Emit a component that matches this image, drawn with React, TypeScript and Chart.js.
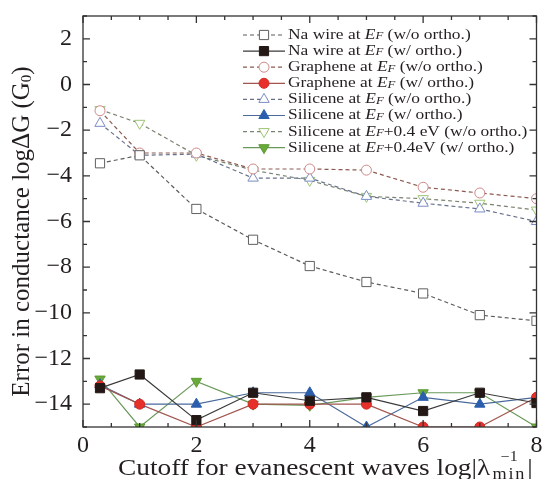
import React, { useEffect, useRef } from "react";
import { Chart, registerables } from "chart.js";
import { drawPoint } from "chart.js/helpers";

Chart.register(...registerables);

const X_VALUES = [0.3, 1, 2, 3, 4, 5, 6, 7, 8];
const NA_WO = [-3.45, -3.1, -5.45, -6.8, -7.95, -8.65, -9.15, -10.1, -10.35];
const NA_W = [-13.3, -12.7, -14.7, -13.5, -13.85, -13.7, -14.3, -13.5, -13.95];
const GR_WO = [-1.15, -3.0, -3.0, -3.7, -3.7, -3.75, -4.5, -4.75, -5.0];
const GR_W = [-13.2, -14.0, -15.0, -14.0, -14.0, -14.0, -15.0, -15.0, -13.7];
const SI_WO = [-1.7, -3.1, -3.05, -4.1, -4.1, -4.9, -5.2, -5.45, -6.0];
const SI_W = [-13.15, -14.0, -14.0, -13.5, -13.5, -15.0, -13.7, -14.0, -13.7];
const SIP_WO = [-1.1, -1.7, -3.1, -3.75, -4.2, -4.9, -5.0, -5.2, -5.5];
const SIP_W = [-12.9, -15.0, -13.0, -14.0, -14.05, -13.7, -13.5, -13.5, -15.0];

const X_TICKS = [0, 2, 4, 6, 8];
const Y_TICKS = [2, 0, -2, -4, -6, -8, -10, -12, -14];

const LABEL_PREFIX = [
  "Na wire at ",
  "Na wire at ",
  "Graphene at ",
  "Graphene at ",
  "Silicene at ",
  "Silicene at ",
  "Silicene at ",
  "Silicene at ",
];
const LABEL_SUFFIX = [
  " (w/o ortho.)",
  " (w/ ortho.)",
  " (w/o ortho.)",
  " (w/ ortho.)",
  " (w/o ortho.)",
  " (w/ ortho.)",
  "+0.4 eV (w/o ortho.)",
  "+0.4eV (w/ ortho.)",
];

const X_TITLE_MAIN = "Cutoff for evanescent waves log|\u03bb";
const X_TITLE_SUP = "\u22121";
const X_TITLE_SUB = "min";
const Y_TITLE_MAIN = "Error in conductance log\u0394G (G";
const Y_TITLE_SUB = "0";

const SERIF = '"Liberation Serif", "Times New Roman", serif';
const TEXT = "#231f20";

type Style = {
  data: number[];
  dashed: boolean;
  line: string;
  fill: string;
  stroke: string;
  shape: string;
  rot: number;
  r: number;
};

const STYLES: Style[] = [
  { data: NA_WO, dashed: true, line: "#5a5a5a", fill: "#ffffff", stroke: "#606060", shape: "rect", rot: 0, r: 6.5 },
  { data: NA_W, dashed: false, line: "#3a3a3a", fill: "#231815", stroke: "#231815", shape: "rect", rot: 0, r: 6.5 },
  { data: GR_WO, dashed: true, line: "#8c5a52", fill: "#ffffff", stroke: "#d08888", shape: "circle", rot: 0, r: 5 },
  { data: GR_W, dashed: false, line: "#a0564e", fill: "#e8302a", stroke: "#d02a25", shape: "circle", rot: 0, r: 5 },
  { data: SI_WO, dashed: true, line: "#66708a", fill: "#ffffff", stroke: "#7a8cc4", shape: "triangle", rot: 0, r: 6 },
  { data: SI_W, dashed: false, line: "#4a6a9c", fill: "#2b5fae", stroke: "#2b5fae", shape: "triangle", rot: 0, r: 6 },
  { data: SIP_WO, dashed: true, line: "#7a8270", fill: "#ffffff", stroke: "#9cc474", shape: "triangle", rot: 180, r: 6 },
  { data: SIP_W, dashed: false, line: "#6a9a5a", fill: "#6aaa3a", stroke: "#5a9a30", shape: "triangle", rot: 180, r: 6 },
];

type Seg = { t: string; f: string; dy: number };

function drawSegments(ctx: CanvasRenderingContext2D, segs: Seg[], x: number, y: number) {
  let cx = x;
  for (const s of segs) {
    ctx.font = s.f;
    ctx.fillText(s.t, cx, y + s.dy);
    cx += ctx.measureText(s.t).width;
  }
  return cx;
}

function segWidth(ctx: CanvasRenderingContext2D, segs: Seg[]) {
  let w = 0;
  for (const s of segs) {
    ctx.font = s.f;
    w += ctx.measureText(s.t).width;
  }
  return w;
}

const framePlugin = {
  id: "frame",
  afterDraw(chart: any) {
    const { ctx, chartArea } = chart;
    const { left, right, top, bottom } = chartArea;
    const xs = chart.scales.x;
    const ys = chart.scales.y;
    ctx.save();
    ctx.strokeStyle = "#333";
    ctx.lineWidth = 1.3;
    ctx.setLineDash([]);
    ctx.strokeRect(left, top, right - left, bottom - top);
    ctx.beginPath();
    for (let i = 0; i <= 16; i++) {
      const v = xs.min + i * 0.5;
      const px = xs.getPixelForValue(v);
      const len = i % 4 === 0 ? 7 : 4;
      ctx.moveTo(px, bottom);
      ctx.lineTo(px, bottom - len);
      ctx.moveTo(px, top);
      ctx.lineTo(px, top + len);
    }
    for (let v = -15; v <= 3; v++) {
      const py = ys.getPixelForValue(v);
      const len = v % 2 === 0 ? 7 : 4;
      ctx.moveTo(left, py);
      ctx.lineTo(left + len, py);
      ctx.moveTo(right, py);
      ctx.lineTo(right - len, py);
    }
    ctx.stroke();
    ctx.restore();
  },
};

const legendPlugin = {
  id: "richLegend",
  afterDraw(chart: any) {
    const ctx: CanvasRenderingContext2D = chart.ctx;
    ctx.save();
    const x0 = 243;
    const x1 = 285;
    const xt = 288;
    const y0 = 35;
    const dy = 16.1;
    STYLES.forEach((s, i) => {
      const y = y0 + i * dy;
      ctx.strokeStyle = s.line;
      ctx.lineWidth = 1.2;
      ctx.setLineDash(s.dashed ? [4, 3] : []);
      ctx.beginPath();
      ctx.moveTo(x0, y);
      ctx.lineTo(x1, y);
      ctx.stroke();
      ctx.setLineDash([]);
      ctx.fillStyle = s.fill;
      ctx.strokeStyle = s.stroke;
      ctx.lineWidth = 1;
      drawPoint(ctx, { pointStyle: s.shape, radius: s.r, rotation: s.rot, borderWidth: 1 } as any, (x0 + x1) / 2, y);
      ctx.fillStyle = TEXT;
      ctx.textBaseline = "middle";
      ctx.textAlign = "left";
      ctx.save();
      ctx.translate(xt, y);
      ctx.scale(1.16, 1);
      drawSegments(
        ctx,
        [
          { t: LABEL_PREFIX[i], f: `15px ${SERIF}`, dy: 0 },
          { t: "E", f: `italic 15px ${SERIF}`, dy: 0 },
          { t: "F", f: `italic 11px ${SERIF}`, dy: 1.5 },
          { t: LABEL_SUFFIX[i], f: `15px ${SERIF}`, dy: 0 },
        ],
        0,
        0
      );
      ctx.restore();
    });
    ctx.restore();
  },
};

const titlePlugin = {
  id: "richTitles",
  afterDraw(chart: any) {
    const ctx: CanvasRenderingContext2D = chart.ctx;
    const { top, bottom } = chart.chartArea;
    ctx.save();
    ctx.fillStyle = TEXT;
    ctx.textAlign = "left";
    // x title
    ctx.textBaseline = "alphabetic";
    const main = `24px ${SERIF}`;
    const sup = `14px ${SERIF}`;
    const sub = `16px ${SERIF}`;
    ctx.save();
    ctx.translate(118, 475);
    ctx.scale(1.14, 1);
    ctx.font = main;
    ctx.fillText(X_TITLE_MAIN, 0, 0);
    let x = ctx.measureText(X_TITLE_MAIN).width + 2;
    (ctx as any).letterSpacing = "1.5px";
    ctx.font = sub;
    const wSub = ctx.measureText(X_TITLE_SUB).width;
    (ctx as any).letterSpacing = "0px";
    ctx.font = sup;
    const wSup = ctx.measureText(X_TITLE_SUP).width;
    ctx.fillText(X_TITLE_SUP, x + (wSub - wSup) / 2, -14);
    (ctx as any).letterSpacing = "1.5px";
    ctx.font = sub;
    ctx.fillText(X_TITLE_SUB, x, 4);
    (ctx as any).letterSpacing = "0px";
    x += wSub + 1;
    ctx.font = main;
    ctx.fillText("|", x, 0);
    ctx.restore();
    // y title
    const ymain = `25px ${SERIF}`;
    const segs: Seg[] = [
      { t: Y_TITLE_MAIN, f: ymain, dy: 0 },
      { t: Y_TITLE_SUB, f: `15px ${SERIF}`, dy: 5 },
      { t: ")", f: ymain, dy: 0 },
    ];
    const w = segWidth(ctx, segs);
    ctx.translate(22, (top + bottom) / 2 + 10);
    ctx.rotate(-Math.PI / 2);
    ctx.textBaseline = "middle";
    drawSegments(ctx, segs, -w / 2, 0);
    ctx.restore();
  },
};

export default function App() {
  const ref = useRef<HTMLCanvasElement>(null);
  useEffect(() => {
    if (!ref.current) return;
    const tickFont = { family: SERIF, size: 24 };
    const chart = new Chart(ref.current, {
      type: "line",
      data: {
        datasets: STYLES.map((s, i) => ({
          label: LABEL_PREFIX[i] + "EF" + LABEL_SUFFIX[i],
          data: X_VALUES.map((xv, j) => ({ x: xv, y: s.data[j] })),
          borderColor: s.line,
          borderWidth: 1.2,
          borderDash: s.dashed ? [4, 3] : [],
          backgroundColor: s.fill,
          pointStyle: s.shape as any,
          pointRotation: s.rot,
          pointRadius: s.r,
          pointBackgroundColor: s.fill,
          pointBorderColor: s.stroke,
          pointBorderWidth: 1,
          tension: 0,
          fill: false,
        })),
      },
      options: {
        animation: false,
        responsive: false,
        maintainAspectRatio: false,
        layout: { padding: { top: 16, right: 2, left: 0, bottom: 0 } },
        plugins: { legend: { display: false }, tooltip: { enabled: false } },
        scales: {
          x: {
            type: "linear",
            min: 0,
            max: 8,
            grid: { display: false, drawTicks: false },
            border: { display: false },
            ticks: { font: tickFont, color: TEXT, padding: 4, maxRotation: 0, autoSkip: false },
            afterBuildTicks: (s: any) => {
              s.ticks = X_TICKS.map((v) => ({ value: v }));
            },
            afterFit: (s: any) => {
              s.height = 52;
              s.paddingLeft = 0;
              s.paddingRight = 0;
            },
          },
          y: {
            type: "linear",
            min: -15,
            max: 3,
            grid: { display: false, drawTicks: false },
            border: { display: false },
            ticks: {
              font: tickFont,
              color: TEXT,
              padding: 11,
              autoSkip: false,
              callback: (v: any) => (Number(v) < 0 ? "\u2212" + Math.abs(Number(v)) : String(v)),
            },
            afterBuildTicks: (s: any) => {
              s.ticks = Y_TICKS.map((v) => ({ value: v }));
            },
            afterFit: (s: any) => {
              s.width = 83;
              s.paddingTop = 0;
              s.paddingBottom = 0;
            },
          },
        },
      },
      plugins: [framePlugin, legendPlugin, titlePlugin],
    });
    return () => chart.destroy();
  }, []);
  return (
    <div style={{ position: "absolute", left: 0, top: 0, width: 544, height: 479, background: "#fff" }}>
      <canvas ref={ref} width={544} height={479} style={{ width: 544, height: 479, display: "block" }} />
    </div>
  );
}
